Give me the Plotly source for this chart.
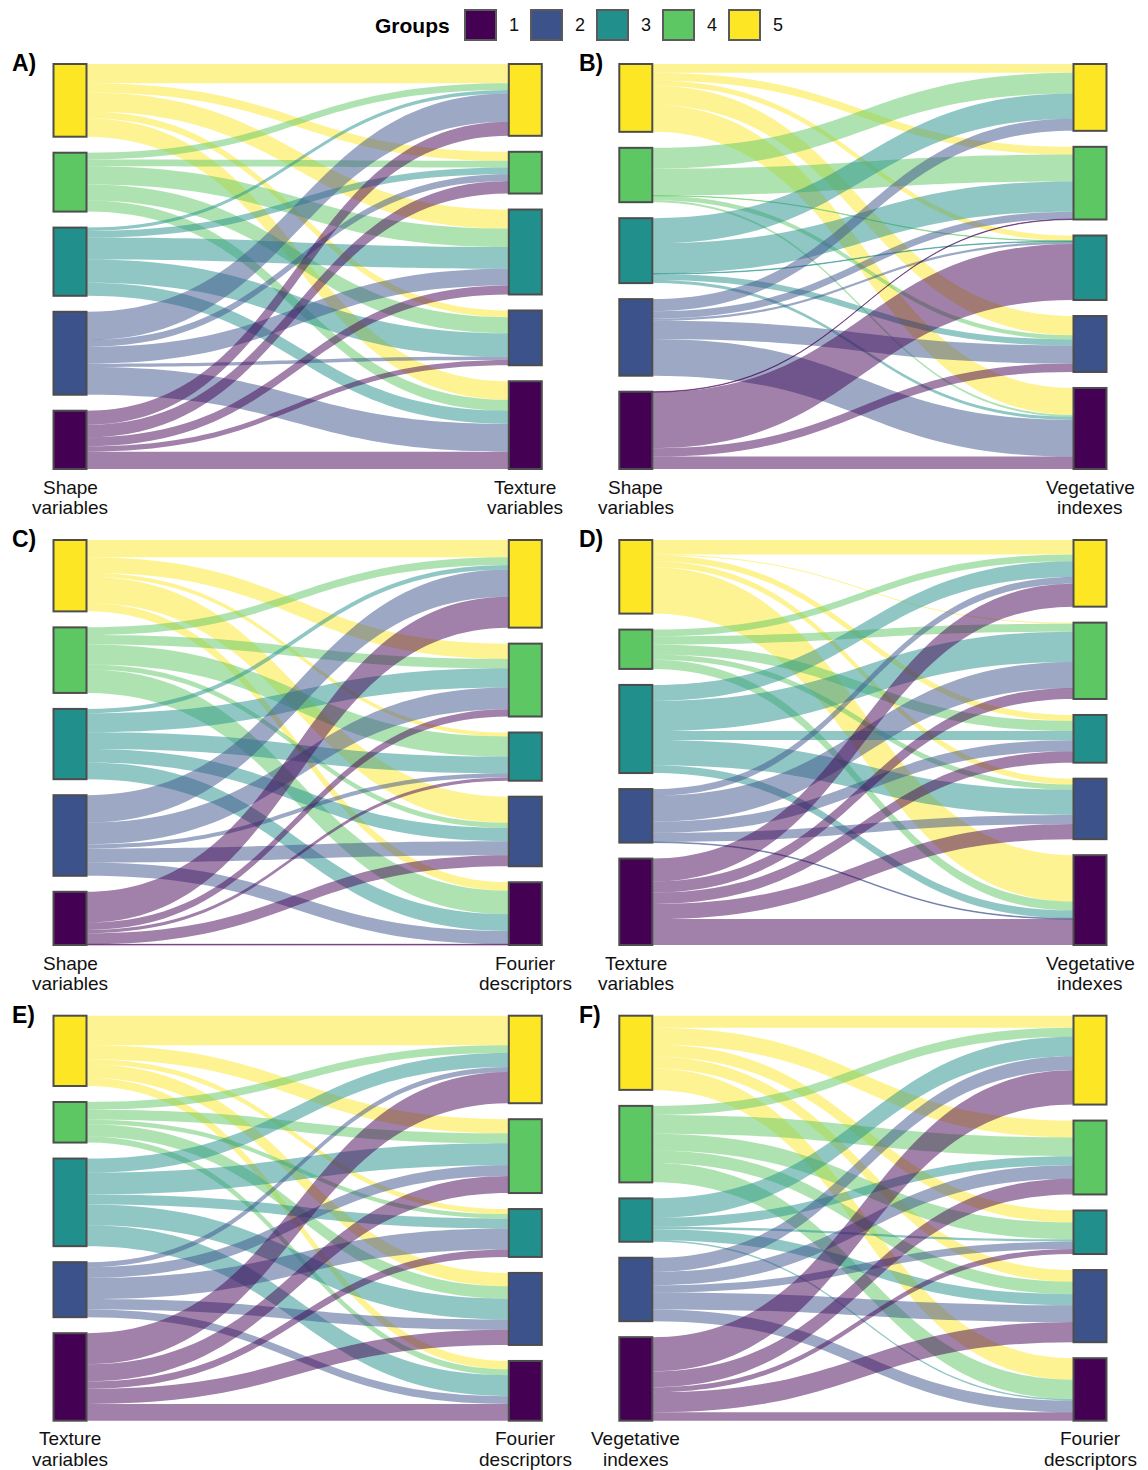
import plotly.graph_objects as go

FIG_W, FIG_H = 1148, 1470
FONT = "Liberation Sans, Arial, Helvetica, sans-serif"
TEXT_COLOR = "#111111"

# Strata order on every axis, top to bottom
groups = [5, 4, 3, 2, 1]
legend_groups = [1, 2, 3, 4, 5]
group_colors = {1: "#440154", 2: "#3B528B", 3: "#21908C", 4: "#5DC863", 5: "#FDE725"}

# Cross-tabulated memberships: rows = left-axis group (5..1), columns = right-axis group (5..1)
shape_vs_texture = [
    [19.3, 9.0, 19.0, 6.7, 18.5],
    [6.7, 6.7, 18.3, 16.0, 11.0],
    [3.3, 6.7, 21.7, 23.3, 13.0],
    [28.3, 6.7, 16.7, 3.3, 27.7],
    [14.0, 12.5, 9.0, 5.3, 17.3],
]
shape_vs_vegetative = [
    [8.7, 7.7, 5.3, 19.0, 26.7],
    [20.7, 26.7, 0.3, 4.3, 2.0],
    [25.0, 30.0, 0.5, 6.0, 3.0],
    [12.0, 7.3, 2.3, 18.0, 36.5],
    [0.0, 0.5, 55.7, 8.3, 12.3],
]
shape_vs_fourier = [
    [17.3, 15.3, 4.0, 26.0, 8.5],
    [7.7, 9.3, 20.0, 5.0, 23.3],
    [4.3, 19.0, 16.7, 13.3, 16.7],
    [27.3, 21.7, 4.0, 14.0, 13.3],
    [30.7, 7.3, 3.3, 11.0, 0.7],
]
texture_vs_vegetative = [
    [14.3, 1.0, 6.0, 5.7, 46.0],
    [6.7, 8.0, 10.0, 5.3, 9.0],
    [15.7, 30.0, 9.0, 25.0, 7.7],
    [6.7, 25.7, 11.0, 9.0, 0.7],
    [22.7, 11.0, 11.3, 15.0, 25.7],
]
texture_vs_fourier = [
    [29.3, 14.0, 5.0, 13.3, 8.3],
    [7.7, 10.0, 4.3, 12.3, 6.0],
    [14.0, 21.7, 10.0, 20.7, 20.7],
    [5.0, 10.7, 21.0, 10.3, 7.7],
    [31.0, 17.0, 7.3, 15.0, 16.7],
]
vegetative_vs_fourier = [
    [12.0, 16.7, 12.0, 11.7, 21.3],
    [9.0, 18.7, 16.7, 12.3, 19.3],
    [19.3, 9.0, 2.3, 11.0, 1.5],
    [14.0, 13.3, 7.3, 16.7, 11.7],
    [34.0, 15.7, 5.0, 20.0, 8.3],
]

panel_tags = ["A)", "B)", "C)", "D)", "E)", "F)"]
left_axis = [["Shape", "variables"], ["Shape", "variables"], ["Shape", "variables"],
             ["Texture", "variables"], ["Texture", "variables"], ["Vegetative", "indexes"]]
right_axis = [["Texture", "variables"], ["Vegetative", "indexes"], ["Fourier", "descriptors"],
              ["Vegetative", "indexes"], ["Fourier", "descriptors"], ["Fourier", "descriptors"]]
panel_flows = [shape_vs_texture, shape_vs_vegetative, shape_vs_fourier,
               texture_vs_vegetative, texture_vs_fourier, vegetative_vs_fourier]

# Page geometry (pixels)
COL_CENTERS = [(70.0, 525.3), (635.8, 1090.0)]   # left / right node centres
ROW_TOPS = [64.0, 540.0, 1015.7]
PANEL_H = 405.0
NODE_PAD = 16.0
NODE_W = 33.0


def rgba(hex_color, alpha):
    h = hex_color.lstrip("#")
    r, g, b = int(h[0:2], 16), int(h[2:4], 16), int(h[4:6], 16)
    return f"rgba({r},{g},{b},{alpha})"


def px_x(x):
    return x / FIG_W


def px_y(y):
    return 1 - y / FIG_H


def stacked_centres(values, ky):
    """Centre of each stratum (fraction of panel height) when stacked with NODE_PAD gaps."""
    out, top = [], 0.0
    for v in values:
        h = v * ky
        out.append((top + h / 2) / PANEL_H)
        top += h + NODE_PAD
    return out


fig = go.Figure()
annotations = []

for k, flows in enumerate(panel_flows):
    row, col = divmod(k, 2)
    cx_left, cx_right = COL_CENTERS[col]
    top = ROW_TOPS[row]
    x0 = cx_left - NODE_W / 2
    x1 = cx_right + NODE_W / 2
    width = x1 - x0

    left_tot = [sum(r) for r in flows]
    right_tot = [sum(flows[i][j] for i in range(5)) for j in range(5)]
    total = sum(left_tot)
    ky = (PANEL_H - 4 * NODE_PAD) / total

    node_x = [(NODE_W / 2) / width] * 5 + [1 - (NODE_W / 2) / width] * 5
    node_y = stacked_centres(left_tot, ky) + stacked_centres(right_tot, ky)
    node_colors = [group_colors[g] for g in groups] * 2

    src, tgt, val, lcol = [], [], [], []
    for i, g in enumerate(groups):
        for j in range(5):
            v = flows[i][j]
            if v <= 0:
                continue
            src.append(i)
            tgt.append(5 + j)
            val.append(v)
            lcol.append(rgba(group_colors[g], 0.5))

    fig.add_trace(go.Sankey(
        domain=dict(x=[px_x(x0), px_x(x1)], y=[px_y(top + PANEL_H), px_y(top)]),
        arrangement="fixed",
        hoverinfo="none",
        node=dict(
            label=[""] * 10,
            x=node_x,
            y=node_y,
            pad=NODE_PAD,
            thickness=NODE_W,
            color=node_colors,
            line=dict(color="#4D4D4D", width=2),
            hoverinfo="none",
        ),
        link=dict(source=src, target=tgt, value=val, color=lcol, hoverinfo="none"),
    ))

    # panel tag
    tag_x = 10 if col == 0 else 577
    annotations.append(dict(
        text=f"<b>{panel_tags[k]}</b>", x=px_x(tag_x), y=px_y(top - 1),
        xanchor="left", yanchor="middle", showarrow=False,
        font=dict(size=23, color="#000000", family=FONT)))

    # axis titles under the node columns
    bottom = top + PANEL_H
    for cx, lines in ((cx_left, left_axis[k]), (cx_right, right_axis[k])):
        for n, line in enumerate(lines):
            annotations.append(dict(
                text=line, x=px_x(cx), y=px_y(bottom + 18 + n * 20.5),
                xanchor="center", yanchor="middle", showarrow=False,
                font=dict(size=19, color=TEXT_COLOR, family=FONT)))

# Legend: "Groups" with coloured keys
shapes = []
annotations.append(dict(
    text="<b>Groups</b>", x=px_x(452), y=px_y(25), xanchor="right", yanchor="middle",
    showarrow=False, font=dict(size=21, color="#000000", family=FONT)))
for n, g in enumerate(legend_groups):
    bx = 465 + n * 66
    shapes.append(dict(
        type="rect", xref="paper", yref="paper",
        x0=px_x(bx), x1=px_x(bx + 31), y0=px_y(40), y1=px_y(10),
        fillcolor=group_colors[g], line=dict(color="#5A5A5A", width=2)))
    annotations.append(dict(
        text=str(g), x=px_x(bx + 48.5), y=px_y(25.5), xanchor="center", yanchor="middle",
        showarrow=False, font=dict(size=18, color=TEXT_COLOR, family=FONT)))

fig.update_layout(
    width=FIG_W, height=FIG_H,
    margin=dict(l=0, r=0, t=0, b=0),
    paper_bgcolor="white", plot_bgcolor="white",
    font=dict(family=FONT),
    annotations=annotations,
    shapes=shapes,
    showlegend=False,
)

fig.write_html("out.html")
